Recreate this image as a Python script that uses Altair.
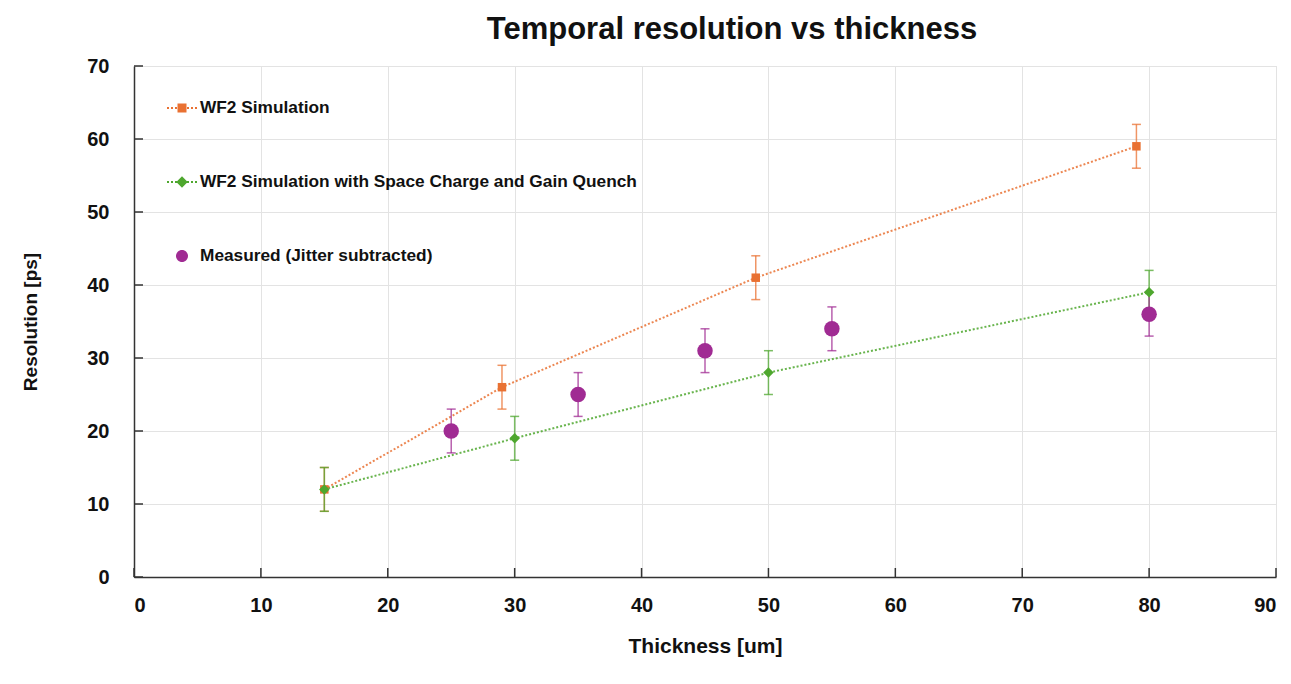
import altair as alt
import pandas as pd

# ---- data ----
sim_x = [15, 29, 49, 79]
sim_y = [12, 26, 41, 59]
sim_err = [3, 3, 3, 3]

sc_x = [15, 30, 50, 80]
sc_y = [12, 19, 28, 39]
sc_err = [3, 3, 3, 3]

meas_x = [25, 35, 45, 55, 80]
meas_y = [20, 25, 31, 34, 36]
meas_err = [3, 3, 3, 3, 3]

series_names = [
    "WF2 Simulation",
    "WF2 Simulation with Space Charge and Gain Quench",
    "Measured (Jitter subtracted)",
]
series_colors = ["#E97132", "#4EA72E", "#A02B93"]
point_shapes = ["square", "diamond", "circle"]
point_sizes = [72, 110, 240]
has_line = [True, True, False]

x_ticks = [0, 10, 20, 30, 40, 50, 60, 70, 80, 90]
y_ticks = [0, 10, 20, 30, 40, 50, 60, 70]

rows = []
for name, xs, ys, es in [
    (series_names[0], sim_x, sim_y, sim_err),
    (series_names[1], sc_x, sc_y, sc_err),
    (series_names[2], meas_x, meas_y, meas_err),
]:
    for x, y, e in zip(xs, ys, es):
        rows.append({"series": name, "x": x, "y": y, "lo": y - e, "hi": y + e})
df = pd.DataFrame(rows)

W, H = 1142, 511
FONT = "Liberation Sans"
INK = "#111111"

xscale = alt.Scale(domain=[0, 90], nice=False, zero=True)
yscale = alt.Scale(domain=[0, 70], nice=False, zero=True)

xaxis = alt.Axis(
    values=x_ticks, title="Thickness [um]", grid=True, ticks=False, tickSize=0,
    labelPadding=18, titlePadding=20, labelFontSize=20, labelFontWeight="bold",
    titleFontSize=21, titleFontWeight="bold", labelFont=FONT, titleFont=FONT,
    domainColor="#333333", domainWidth=1.5, gridColor="#e3e3e3",
    labelColor=INK, titleColor=INK)
yaxis = alt.Axis(
    values=y_ticks, title="Resolution [ps]", grid=True, ticks=False, tickSize=0,
    labelPadding=25, titlePadding=46, labelFontSize=20, labelFontWeight="bold",
    titleFontSize=19, titleFontWeight="bold", labelFont=FONT, titleFont=FONT,
    domainColor="#333333", domainWidth=1.5, gridColor="#e3e3e3",
    labelColor=INK, titleColor=INK)

base = alt.Chart(df)

layers = []
# axes carrier (invisible)
layers.append(base.mark_point(opacity=0).encode(
    x=alt.X("x:Q", scale=xscale, axis=xaxis),
    y=alt.Y("y:Q", scale=yscale, axis=yaxis)))

for name, col, shp, sz, ln in zip(series_names, series_colors, point_shapes, point_sizes, has_line):
    sub = base.transform_filter(alt.datum.series == name)
    if ln:
        layers.append(sub.mark_line(strokeDash=[2, 2], strokeWidth=2, opacity=0.85, color=col).encode(
            x="x:Q", y="y:Q"))
for name, col, shp, sz, ln in zip(series_names, series_colors, point_shapes, point_sizes, has_line):
    sub = base.transform_filter(alt.datum.series == name)
    layers.append(sub.mark_rule(strokeWidth=1.5, opacity=0.75, color=col).encode(
        x="x:Q", y="lo:Q", y2="hi:Q"))
    layers.append(sub.mark_tick(orient="horizontal", size=9, thickness=1.5, opacity=0.75, color=col).encode(
        x="x:Q", y="lo:Q"))
    layers.append(sub.mark_tick(orient="horizontal", size=9, thickness=1.5, opacity=0.75, color=col).encode(
        x="x:Q", y="hi:Q"))
for name, col, shp, sz, ln in zip(series_names, series_colors, point_shapes, point_sizes, has_line):
    sub = base.transform_filter(alt.datum.series == name)
    layers.append(sub.mark_point(filled=True, opacity=1, color=col, shape=shp, size=sz).encode(
        x="x:Q", y="y:Q"))

# legend symbols: custom paths (unit coords, scaled to 30px wide)
def dotted_line():
    parts = []
    u = 1 / 15.0
    x = -1.0
    while x < 1.0 - 1e-9:
        x2 = min(x + 2 * u, 1.0)
        parts.append(f"M{x:.3f},{-u:.3f}L{x2:.3f},{-u:.3f}L{x2:.3f},{u:.3f}L{x:.3f},{u:.3f}Z")
        x += 4 * u
    return "".join(parts)

sq = "M-0.3,-0.3L0.3,-0.3L0.3,0.3L-0.3,0.3Z"
dia = "M0,-0.38L0.38,0L0,0.38L-0.38,0Z"
circ = "M-0.4,0A0.4,0.4,0,1,0,0.4,0A0.4,0.4,0,1,0,-0.4,0Z"
legend_paths = [dotted_line() + sq, dotted_line() + dia, circ]

legend = alt.Legend(
    title=None, orient="none", legendX=33, legendY=27, direction="vertical",
    labelFontSize=17.3, labelFontWeight="bold", labelFont=FONT, labelColor=INK,
    rowPadding=50, labelOffset=3, labelLimit=700, symbolStrokeWidth=0,
    symbolSize=900, symbolOpacity=1,
)
layers.append(base.transform_filter("false").mark_point(filled=True, opacity=1).encode(
    x="x:Q", y="y:Q",
    color=alt.Color("series:N", scale=alt.Scale(domain=series_names, range=series_colors), legend=legend),
    shape=alt.Shape("series:N", scale=alt.Scale(domain=series_names, range=legend_paths), legend=legend),
))

# inward tick marks
layers.append(alt.Chart(pd.DataFrame({"t": x_ticks})).mark_rule(color="#333333", strokeWidth=1.5).encode(
    x="t:Q", y=alt.value(H), y2=alt.value(H - 9)))
layers.append(alt.Chart(pd.DataFrame({"t": y_ticks})).mark_rule(color="#333333", strokeWidth=1.5).encode(
    y="t:Q", x=alt.value(0), x2=alt.value(9)))

chart = alt.layer(*layers).properties(
    width=W, height=H,
    title=alt.TitleParams("Temporal resolution vs thickness", fontSize=31, fontWeight="bold",
                          font=FONT, color=INK, anchor="middle", dx=27, offset=10),
    padding={"left": 21, "top": 14, "right": 5, "bottom": 5},
).configure_view(stroke=None).configure(background="white")

chart.save("out.html", embed_options={"renderer": "svg", "actions": False})
